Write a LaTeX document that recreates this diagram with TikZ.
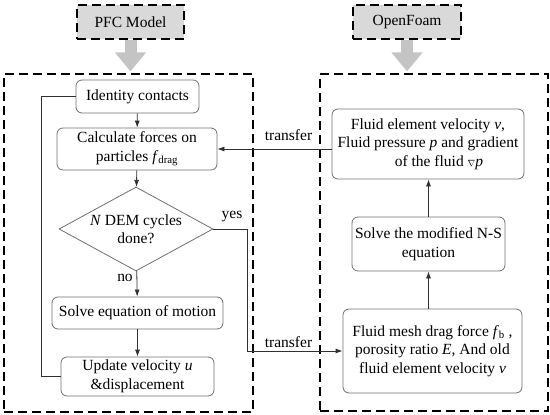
\documentclass[tikz,border=0pt]{standalone}
\usepackage{fontspec}
\setmainfont{Liberation Serif}
\usetikzlibrary{shapes.geometric,arrows.meta}
\definecolor{boxgray}{HTML}{707070}
\definecolor{linegray}{HTML}{303030}
\definecolor{fillgray}{HTML}{D9D9D9}
\definecolor{blockgray}{HTML}{C4C4C4}
\begin{document}
\begin{tikzpicture}[x=1pt,y=-1pt,
  every node/.style={font=\fontsize{15.5}{18.5}\selectfont, inner sep=0pt},
  box/.style={draw=boxgray, rounded corners=6pt, line width=0.8pt, align=center},
  dia/.style={draw=boxgray, diamond, line width=0.8pt, minimum width=154pt, minimum height=84pt},
  frame/.style={draw=black, dashed, dash pattern=on 9pt off 5pt, line width=1.2pt},
  topbox/.style={frame, fill=fillgray, align=center},
  arr/.style={draw=linegray, line width=0.8pt, -{Latex[length=7pt,width=5pt]}},
  ln/.style={draw=linegray, line width=0.8pt},
  block/.style={draw=blockgray, line width=12pt, -{Triangle[length=19pt,width=30pt]}, shorten >=2pt}
]
\useasboundingbox (0,0) rectangle (550,415);

% frames and headers
\node[frame, minimum width=249pt, minimum height=338pt] (lf) at (128.5,243) {};
\node[frame, minimum width=228pt, minimum height=337pt] (rf) at (434,242.5) {};
\node[topbox, minimum width=107pt, minimum height=34pt] (pfc) at (130.5,22) {PFC Model};
\node[topbox, minimum width=108pt, minimum height=34pt] (of) at (407,22) {OpenFoam};
\draw[block] (pfc.south) -- (pfc.south |- lf.north);
\draw[block] (of.south) -- (of.south |- rf.north);

% left flow
\node[box, minimum width=123pt, minimum height=33pt] (ident) at (137.5,96.5) {Identity contacts};
\node[box, minimum width=160pt, minimum height=42pt] (calc) at (137,149) {Calculate forces on\\particles \textit{f}\textsubscript{drag}};
\node[dia] (dec) at (136,229) {};
\node[align=center] (dect) at (dec) {\textit{N} DEM cycles\\done?};
\node[box, minimum width=171pt, minimum height=32pt] (solve) at (137.5,313) {Solve equation of motion};
\node[box, minimum width=153pt, minimum height=39pt] (upd) at (137.5,376.5) {Update velocity \textit{u}\\\&displacement};

% right flow
\node[box, minimum width=192pt, minimum height=70pt] (fel) at (428,144) {Fluid element velocity \textit{v},\\Fluid pressure \textit{p} and gradient\\\hspace*{22pt}of the fluid {\small$\nabla$}\textit{p}};
\node[box, minimum width=153pt, minimum height=54pt] (ns) at (428.5,244) {Solve the modified N-S\\equation};
\node[box, minimum width=179pt, minimum height=84pt] (mesh) at (432.5,351) {Fluid mesh drag force \textit{f}\textsubscript{b} ,\\porosity ratio \textit{E}, And old\\fluid element velocity \textit{v}};

% connectors
\draw[arr] (ident) -- (calc);
\draw[arr] (calc) -- (dec);
\draw[arr] (dec) -- (solve);
\draw[arr] (solve) -- (upd);
\draw[ln] (upd.west) -- ++(-19,0) |- (ident.west);
\draw[arr] (dec.east) -- ++(34,0) |- (mesh.west);
\draw[arr] (ns.south |- mesh.north) -- (ns.south);
\draw[arr] (ns.north) -- (ns.north |- fel.south);
\draw[arr] (calc.east -| fel.west) -- (calc.east);

% labels
\node (no) at (125,278) {no};
\node (yes) at (232,217) {yes};
\node (tr1) at (288.5,135) {transfer};
\node (tr2) at (288.5,342) {transfer};
\end{tikzpicture}
\end{document}
